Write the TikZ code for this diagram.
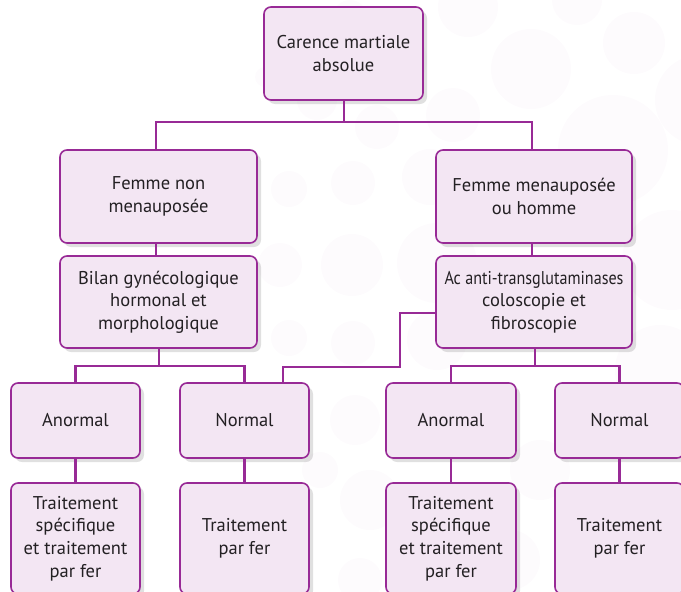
\documentclass[tikz,border=0pt]{standalone}
\usepackage{fontspec}
\setmainfont{PT Sans}
\usetikzlibrary{shadows}
\definecolor{purp}{RGB}{152,42,150}
\definecolor{boxfill}{RGB}{243,230,243}
\definecolor{txt}{RGB}{35,32,35}
\definecolor{dot}{RGB}{253,251,253}
\tikzset{
  box/.style={draw=purp, line width=1.6pt, fill=boxfill, rounded corners=7pt,
    inner sep=0pt, align=center, text=txt,
    font=\fontsize{18.5}{22.7}\selectfont,
    drop shadow={shadow xshift=4pt, shadow yshift=-4pt, opacity=0.12, fill=black}},
  conn/.style={draw=purp, line width=2.4pt},
  bgdot/.style={fill=dot, draw=none}
}
\begin{document}
\begin{tikzpicture}[x=1pt,y=-1pt]
\useasboundingbox (0,0) rectangle (681,592);
\clip (0,0) rectangle (681,592);
% background dots
\foreach \cx/\cy/\r in {350/17/17, 397/60/30, 317/100/20, 265/77/10, 377/127/22,
  468/7/30, 577/0/25, 531/69/40, 634/43/31, 453/115/27, 613/150/55, 700/100/45,
  289/189/18, 353/183/22, 430/177/28, 352/265/31, 280/265/22, 437/263/40,
  289/338/18, 353/343/22, 437/340/30, 672/260/50, 660/370/45,
  355/420/25, 370/500/30, 360/580/22, 540/470/30, 320/470/18, 510/560/30}
  \fill[bgdot] (\cx,\cy) circle (\r);
% boxes
\node[box, minimum width=159pt, minimum height=93pt] (top) at (343.5,53.5) {Carence martiale\\absolue};
\node[box, minimum width=197pt, minimum height=93pt] (fnm) at (158.5,196.5) {Femme non\\menauposée};
\node[box, minimum width=197pt, minimum height=92pt] (bil) at (158.5,302) {Bilan gynécologique\\hormonal et\\morphologique};
\node[box, minimum width=196pt, minimum height=93pt] (fm) at (534,196.5) {Femme menauposée\\ou homme};
\node[box, minimum width=196pt, minimum height=92pt] (ac) at (534,302) {\scalebox{0.87}[1]{Ac anti-transglutaminases}\\coloscopie et\\fibroscopie};
\node[box, minimum width=129pt, minimum height=75pt] (an1) at (75.5,420.5) {Anormal};
\node[box, minimum width=129pt, minimum height=75pt] (no1) at (244.5,420.5) {Normal};
\node[box, minimum width=130pt, minimum height=75pt] (an2) at (451,420.5) {Anormal};
\node[box, minimum width=129pt, minimum height=75pt] (no2) at (619.5,420.5) {Normal};
\node[box, minimum width=129pt, minimum height=111pt] (tr1) at (75.5,538.5) {Traitement\\spécifique\\et traitement\\par fer};
\node[box, minimum width=129pt, minimum height=111pt] (tr2) at (244.5,538.5) {Traitement\\par fer};
\node[box, minimum width=130pt, minimum height=111pt] (tr3) at (451,538.5) {Traitement\\spécifique\\et traitement\\par fer};
\node[box, minimum width=129pt, minimum height=111pt] (tr4) at (619.5,538.5) {Traitement\\par fer};
% junction coordinates
\coordinate (j1) at (344,122);
\coordinate (xl) at (156,0);
\coordinate (xr) at (532,0);
\coordinate (xb) at (159,0);
\coordinate (xa) at (535,0);
\coordinate (j2) at (159,366);
\coordinate (j3) at (535,366);
\coordinate (k1) at (400,313);
\coordinate (k2) at (283,367);
% connectors
\draw[conn] (top.south -| j1) -- (j1);
\draw[conn] (fnm.north -| xl) |- (j1) -| (fm.north -| xr);
\draw[conn] (fnm.south -| xl) -- (bil.north -| xl);
\draw[conn] (fm.south -| xr) -- (ac.north -| xr);
\draw[conn] (bil.south -| xb) -- (j2);
\draw[conn] (an1.north) |- (j2) -| (no1.north);
\draw[conn] (ac.south -| xa) -- (j3);
\draw[conn] (an2.north) |- (j3) -| (no2.north);
\draw[conn] (ac.west |- k1) -- (k1) |- (k2) -- (no1.north -| k2);
\draw[conn] (an1) -- (tr1);
\draw[conn] (no1) -- (tr2);
\draw[conn] (an2) -- (tr3);
\draw[conn] (no2) -- (tr4);
\end{tikzpicture}
\end{document}
